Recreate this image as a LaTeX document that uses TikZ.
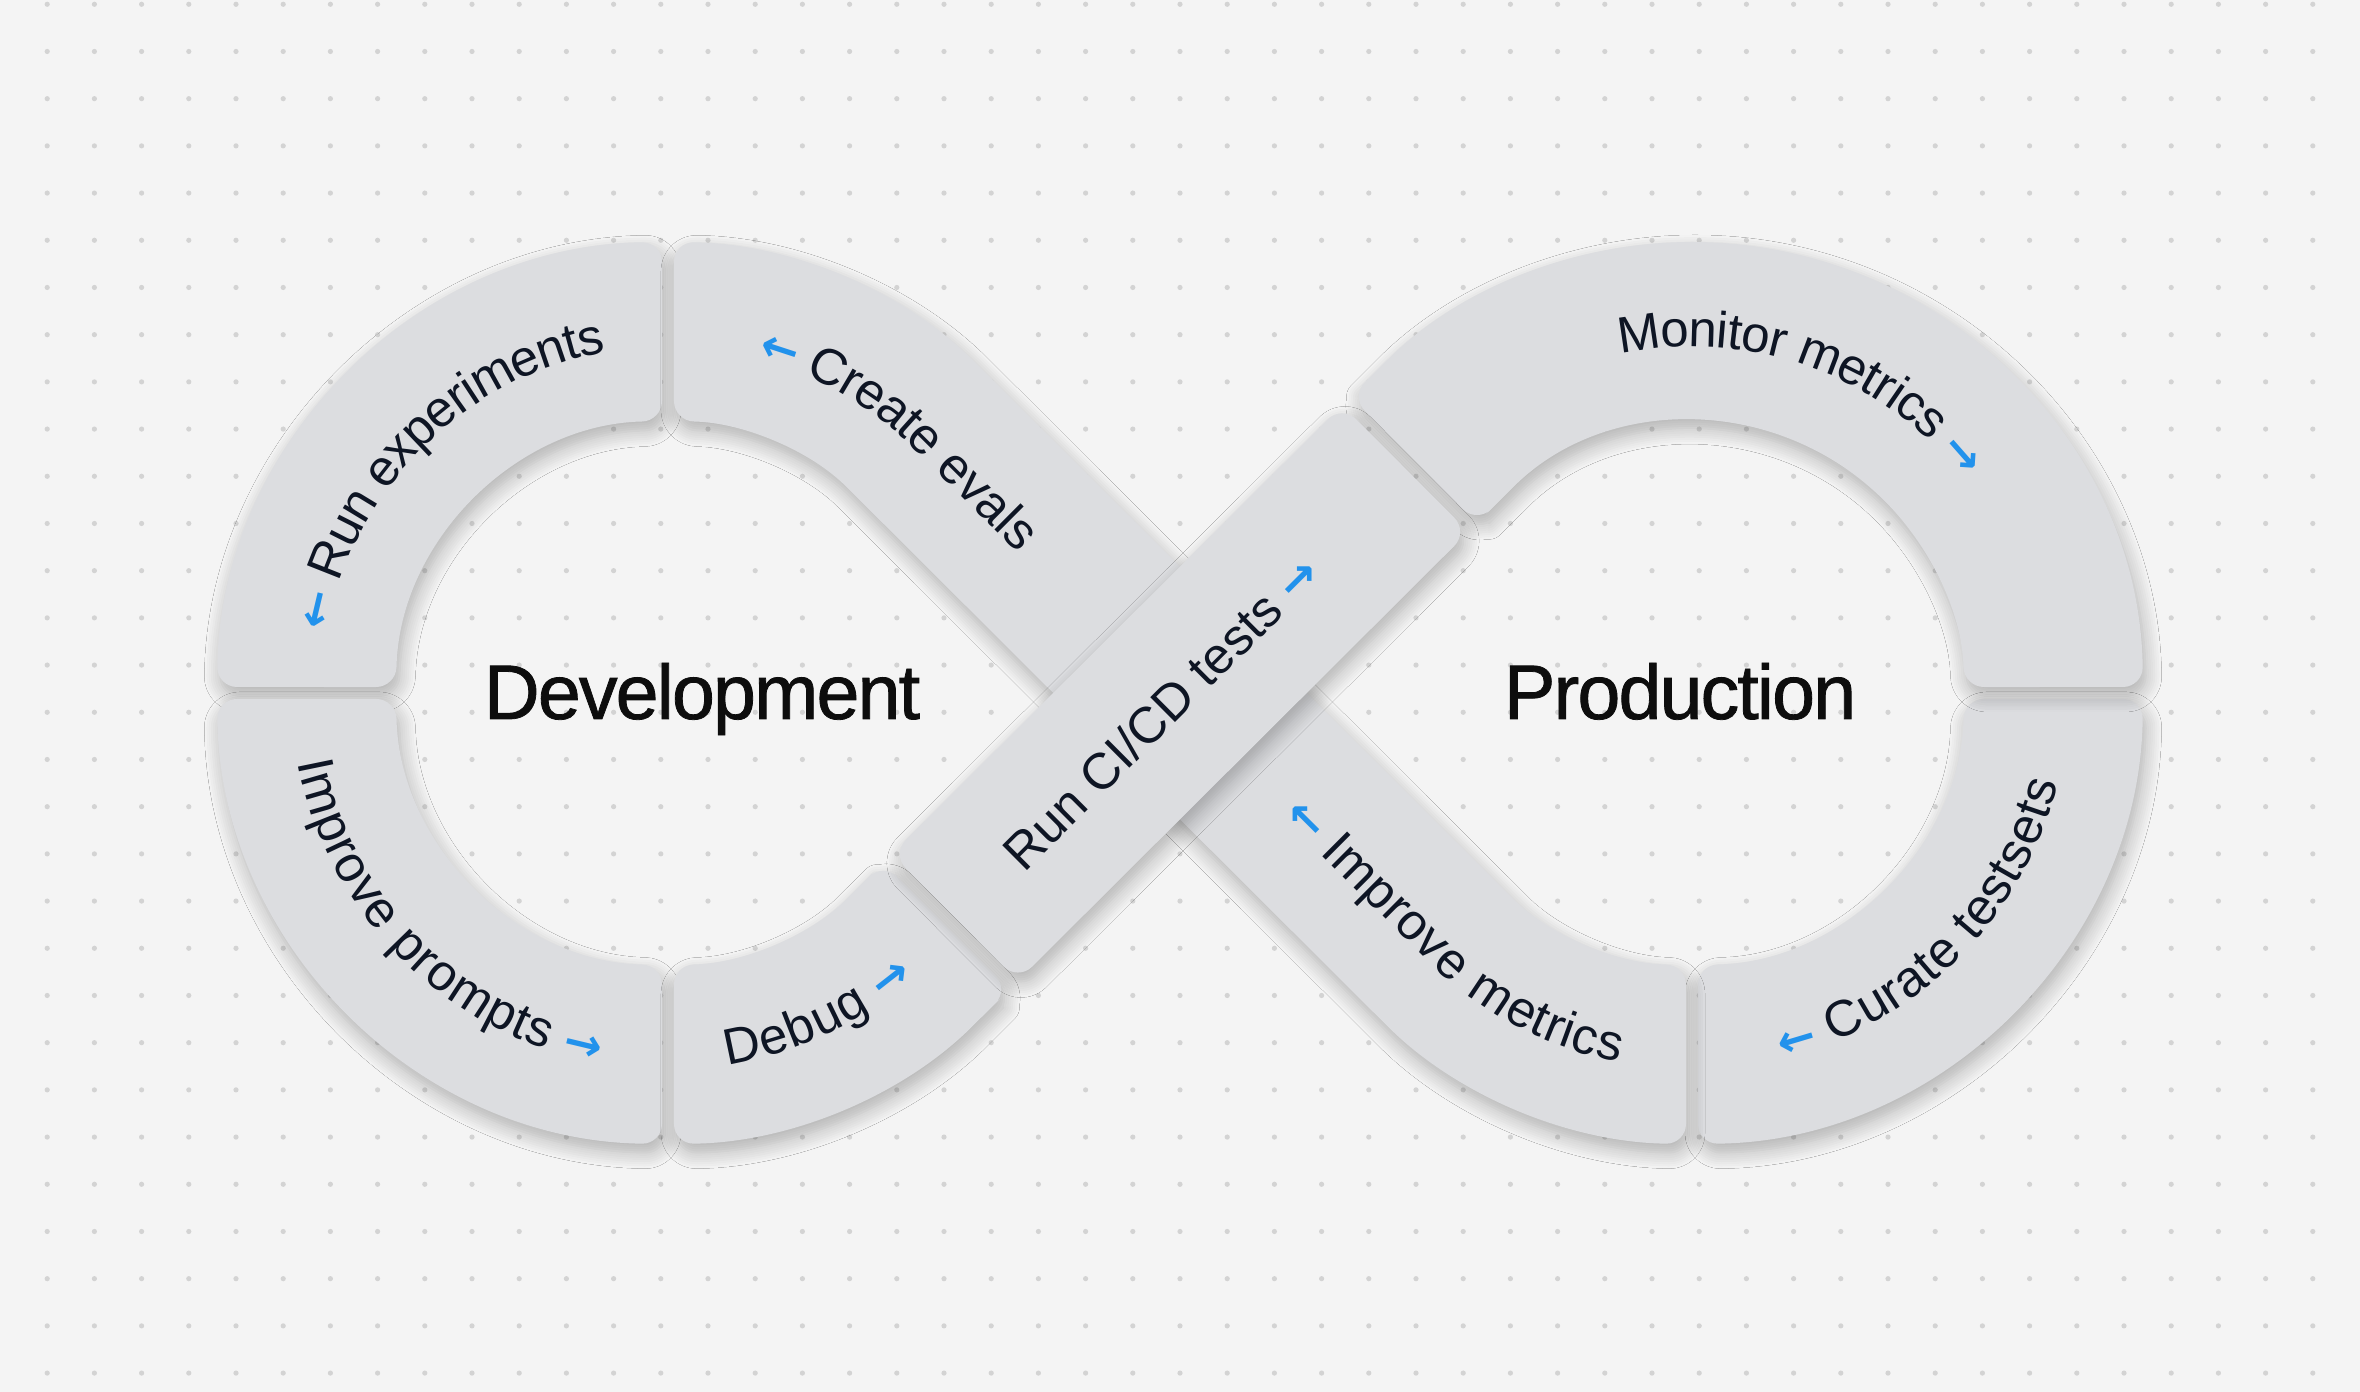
\documentclass[tikz,border=0pt]{standalone}
\usepackage{fontspec}
\setmainfont{Liberation Sans}
\newfontfamily\titlefont[LetterSpace=-2.5,FakeBold=1]{Liberation Sans}
\newfontfamily\arrowfont{DejaVu Sans}
\usepackage{tikz}
\usetikzlibrary{calc,decorations.text,shadows.blur}
\usepackage{xcolor}
\definecolor{pagegray}{RGB}{244,244,244}
\definecolor{dotgray}{RGB}{211,211,211}
\definecolor{bandgray}{RGB}{220,221,224}
\definecolor{labelnavy}{RGB}{14,21,36}
\definecolor{arrowblue}{RGB}{34,146,236}
\newcommand{\arrowsz}{\arrowfont\bfseries\fontsize{13}{14}\selectfont}

\begin{document}
\begin{tikzpicture}[
        band/.style={fill=bandgray,rounded corners=2mm,
                     blur shadow={shadow xshift=0.3mm,shadow yshift=-0.9mm,
                                  shadow blur radius=1.6mm,shadow blur steps=8,
                                  shadow opacity=28}},
        bend text/.style={decorate,decoration={text along path,raise=-1.5mm,
                          text align=center,text={#1}}},
        phase/.style={font=\titlefont\fontsize{22}{26}\selectfont,text=black!95,anchor=base}
    ]
    \fontsize{14.5}{17}\selectfont
    \useasboundingbox (0,0) rectangle (23.6,13.92);
    \fill[pagegray] (0,0) rectangle (23.6,13.92);
    \foreach \i in {1,...,49}
        \foreach \j in {0,...,29}
            \fill[dotgray] (0.472*\i,13.877-0.472*\j) circle (0.026);

    \coordinate (C1) at (6.68,6.99);
    \coordinate (C2) at (16.92,6.99);
    \coordinate (M) at (11.80,6.99);

    \begin{scope}[shift={(C1)}]
        \path[band] (179.24:4.51) arc[start angle=179.24,end angle=90.76,radius=4.51]
            -- (91.26:2.72) arc[start angle=91.26,end angle=178.74,radius=2.72] -- cycle;
        \path[band] (180.76:4.51) arc[start angle=180.76,end angle=269.24,radius=4.51]
            -- (268.74:2.72) arc[start angle=268.74,end angle=181.26,radius=2.72] -- cycle;
        \path[band] (270.76:4.51) arc[start angle=270.76,end angle=314.9,radius=4.51]
            -- ++(44.9:0.326) -- ++(134.9:1.79) -- ++(224.9:0.326)
            arc[start angle=314.9,end angle=271.26,radius=2.72] -- cycle;
    \end{scope}
    \begin{scope}[shift={(C2)}]
        \path[band] (359.24:4.51) arc[start angle=359.24,end angle=270.76,radius=4.51]
            -- (271.26:2.72) arc[start angle=271.26,end angle=358.74,radius=2.72] -- cycle;
        \path[band] (0.76:4.51) arc[start angle=0.76,end angle=134.9,radius=4.51]
            -- ++(224.9:0.326) -- ++(314.9:1.79) -- ++(44.9:0.326)
            arc[start angle=134.9,end angle=1.26,radius=2.72] -- cycle;
    \end{scope}
    \path[band] ($(C1)+(89.24:4.51)$) arc[start angle=89.24,end angle=45.1,radius=4.51]
        -- ($(C2)+(225.1:2.72)$) arc[start angle=225.1,end angle=268.74,radius=2.72]
        -- ($(C2)+(269.24:4.51)$) arc[start angle=269.24,end angle=225.1,radius=4.51]
        -- ($(C1)+(45.1:2.72)$) arc[start angle=45.1,end angle=88.74,radius=2.72] -- cycle;

    \node[band,rotate=44.9,minimum width=6.36cm,minimum height=1.79cm,inner sep=0pt,
          text=labelnavy] (cicd) at (M)
          {Run CI/CD tests \textcolor{arrowblue}{\arrowsz →}\kern0.55cm};

    \path[bend text={|\color{arrowblue}\arrowsz|←|\color{labelnavy}| Run experiments}]
        ($(C1)+(180:3.615)$) arc[start angle=180,end angle=90,radius=3.615];
    \path[bend text={|\color{labelnavy}|Improve prompts |\color{arrowblue}\arrowsz|→}]
        ($(C1)+(180:3.615)$) arc[start angle=180,end angle=270,radius=3.615];
    \path[bend text={|\color{labelnavy}|Debug |\color{arrowblue}\arrowsz|→}]
        ($(C1)+(270:3.615)$) arc[start angle=270,end angle=320,radius=3.615];
    \path[bend text={|\color{arrowblue}\arrowsz|←|\color{labelnavy}| Create evals},
          decoration={text align={left,left indent=0.95cm}}]
        ($(C1)+(90:3.615)$) arc[start angle=90,end angle=45.1,radius=3.615] -- ++(-44.9:2.6);
    \path[bend text={|\color{arrowblue}\arrowsz|←|\color{labelnavy}| Improve metrics},
          decoration={text align={left,left indent=1.6cm}}]
        (M) -- ($(C2)+(225.1:3.615)$) arc[start angle=225.1,end angle=270,radius=3.615];
    \path[bend text={|\color{labelnavy}|Monitor metrics |\color{arrowblue}\arrowsz|→}]
        ($(C2)+(140:3.615)$) arc[start angle=140,end angle=0,radius=3.615];
    \path[bend text={|\color{arrowblue}\arrowsz|←|\color{labelnavy}| Curate testsets}]
        ($(C2)+(270:3.615)$) arc[start angle=270,end angle=360,radius=3.615];

    \node[phase] (dev) at ($(C1)+(0.34,-0.26)$) {Development};
    \node[phase] (prod) at ($(C2)+(-0.12,-0.26)$) {Production};
\end{tikzpicture}
\end{document}
